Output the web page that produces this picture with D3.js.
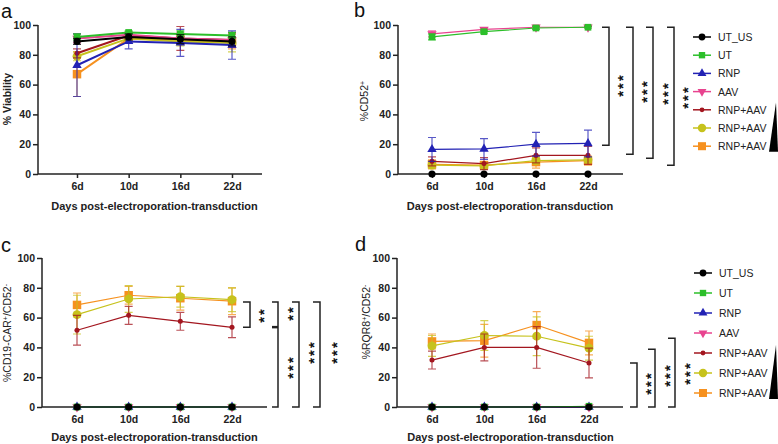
<!DOCTYPE html>
<html>
<head>
<meta charset="utf-8">
<script src="https://cdn.jsdelivr.net/npm/d3@7"></script>
<style>
  body { margin: 0; background: #fff; }
  svg { font-family: "Liberation Sans", Arial, sans-serif; }
  .tick text { font-weight: bold; font-size: 10.5px; fill: #222; }
  .axis path, .axis line { stroke: #222; stroke-width: 1.5px; }
</style>
</head>
<body>
<div id="chart"></div>
<script>
// days on the x axis, and the seven groups
var days = ['6d', '10d', '16d', '22d'];
var groups = ['UT_US', 'UT', 'RNP', 'AAV', 'RNP+AAV', 'RNP+AAV', 'RNP+AAV'];
var yTicks = [0, 20, 40, 60, 80, 100];

// a - % viability
var viabilityMean = [
  [89, 92, 90.5, 89],
  [92, 95, 94, 93],
  [73, 89, 88, 86.5],
  [91, 93.5, 91, 90],
  [81, 93, 91, 90],
  [79, 91, 89, 88],
  [67, 91, 90, 89]
];
var viabilityErr = [
  [2, 2, 3, 3],
  [2, 1, 2, 2],
  [21, 5, 9, 9.5],
  [3, 2, 4, 4],
  [3, 2, 8, 5],
  [3, 2, 3, 6],
  [15, 2, 3, 5]
];

// b - %CD52+
var cd52Mean = [
  [0, 0, 0, 0],
  [92, 95.5, 98, 98.5],
  [16.5, 16.8, 20, 20.5],
  [94, 97, 98.5, 98.5],
  [8.5, 7, 12.5, 12.5],
  [6, 5.5, 9, 9.5],
  [6.5, 6, 8, 9]
];
var cd52Err = [
  [0, 0, 0, 0],
  [2, 1, 1, 0.5],
  [8, 7, 8, 9],
  [2, 1, 1, 0.5],
  [3, 4, 5, 6],
  [2, 2, 2, 2],
  [3, 2, 4, 3]
];

// c - %CD19-CAR+/CD52-
var carMean = [
  [0, 0, 0, 0],
  [0, 0, 0, 0],
  [0, 0, 0, 0],
  [0, 0, 0, 0],
  [51.5, 61.5, 57.5, 53.5],
  [62, 72.5, 74, 72],
  [68.5, 75, 73, 71]
];
var carErr = [
  [0, 0, 0, 0],
  [0, 0, 0, 0],
  [0, 0, 0, 0],
  [0, 0, 0, 0],
  [10, 6, 6, 7],
  [13, 9, 7, 8],
  [8, 6, 8, 9]
];

// d - %RQR8+/CD52-
var rqrMean = [
  [0, 0, 0, 0],
  [0, 0, 0, 0.5],
  [0, 0, 0, 0],
  [0, 0, 0, 0],
  [31.5, 40, 40, 29.5],
  [41, 48, 47.5, 39.5],
  [44, 44.5, 55, 43]
];
var rqrErr = [
  [0, 0, 0, 0],
  [0, 0, 0, 0],
  [0, 0, 0, 0],
  [0, 0, 0, 0],
  [6, 9, 14, 10],
  [7, 10, 13, 8],
  [5, 11, 9, 8]
];

// significance brackets, in data units (top value, bottom value, stars)
var sigB = [[98.5, 19.3, '***'], [98.5, 13.2, '***'], [98.5, 10.5, '***'], [98.5, 5.8, '***']];
var sigD = [[29.5, 0, '***'], [38.8, 0, '***'], [46.2, 0, '***']];

var colors = ['#000000', '#2cbf2a', '#2222b4', '#e8438f', '#a3161f', '#c6c21c', '#f6911f'];
var symbols = [d3.symbolCircle, d3.symbolSquare, d3.symbolTriangle, d3.symbolTriangle,
               d3.symbolCircle, d3.symbolCircle, d3.symbolSquare];
var symSize = [40, 45, 38, 38, 20, 62, 72];

var W = 778, H = 444;
var svg = d3.select('#chart').append('svg').attr('width', W).attr('height', H);

function marker(g, i, x, y, scale) {
  g.append('path')
    .attr('d', d3.symbol().type(symbols[i]).size(symSize[i] * (scale || 1))())
    .attr('transform', 'translate(' + x + ',' + y + ')' + (i == 3 ? ' rotate(180)' : ''))
    .attr('fill', colors[i]);
}

function yLabel(x, y, parts, bold) {
  var t = svg.append('text')
    .attr('transform', 'translate(' + x + ',' + y + ') rotate(-90)')
    .attr('text-anchor', 'middle')
    .style('font-size', '10.5px')
    .style('font-weight', bold ? 'bold' : 'normal')
    .style('fill', '#222');
  parts.forEach(function(p) {
    var s = t.append('tspan').text(p[0]);
    if (p[1]) s.attr('baseline-shift', 'super').style('font-size', '7px');
  });
}

// stars stacked vertically: one rotated text, glyph centre at (x, yc)
function stars(x, yc, label) {
  svg.append('text')
    .attr('transform', 'translate(' + (x + 8.5) + ',' + yc + ') rotate(-90)')
    .attr('text-anchor', 'middle')
    .style('font-size', '15px').style('font-weight', 'bold').style('fill', '#111')
    .style('letter-spacing', '2px')
    .text(label);
}

function bracket(x, yTop, yBot, tick) {
  svg.append('path')
    .attr('d', 'M' + (x - tick) + ',' + yTop + 'H' + x + 'V' + yBot + 'H' + (x - tick))
    .attr('fill', 'none').attr('stroke', '#222').attr('stroke-width', 1.5);
}

function drawPanel(p) {
  var y = d3.scaleLinear().domain([0, 100]).range([p.y0, p.y100]);
  var x = d3.scalePoint().domain(days).range([p.xFrom, p.xTo]);
  var g = svg.append('g');

  svg.append('text').attr('x', p.lx).attr('y', p.ly)
    .style('font-size', '20px').style('fill', '#111').text(p.letter);

  var yAxis = g.append('g').attr('class', 'axis')
    .attr('transform', 'translate(' + p.axisX + ',0)')
    .call(d3.axisLeft(y).tickValues(yTicks).tickSize(5).tickSizeOuter(0).tickPadding(2));
  yAxis.select('.domain').attr('d', 'M0,' + p.y0 + 'V' + p.y100);

  var xAxis = g.append('g').attr('class', 'axis')
    .attr('transform', 'translate(0,' + p.y0 + ')')
    .call(d3.axisBottom(x).tickSize(4).tickSizeOuter(0).tickPadding(5));
  xAxis.select('.domain').attr('d', 'M' + p.axisX + ',0H' + p.axisEnd);

  svg.append('text')
    .attr('x', (p.xFrom + p.xTo) / 2).attr('y', p.y0 + p.titleGap)
    .attr('text-anchor', 'middle')
    .style('font-size', '11px').style('font-weight', 'bold').style('fill', '#222')
    .text('Days post-electroporation-transduction');

  var line = d3.line().x(function(d, j) { return x(days[j]); }).y(function(d) { return y(d); });

  for (var i = groups.length - 1; i >= 0; i--) {
    var gi = g.append('g');
    // error bars
    p.mean[i].forEach(function(m, j) {
      var e = p.err[i][j];
      if (e <= 0) return;
      var cx = x(days[j]);
      gi.append('path')
        .attr('d', 'M' + cx + ',' + y(m - e) + 'V' + y(Math.min(100, m + e)) +
          'M' + (cx - 4) + ',' + y(m - e) + 'H' + (cx + 4) +
          'M' + (cx - 4) + ',' + y(Math.min(100, m + e)) + 'H' + (cx + 4))
        .attr('stroke', colors[i]).attr('stroke-opacity', 0.75)
        .attr('stroke-width', 1.2).attr('fill', 'none');
    });
    gi.append('path').datum(p.mean[i]).attr('d', line)
      .attr('fill', 'none').attr('stroke', colors[i]).attr('stroke-width', p.lineW);
    p.mean[i].forEach(function(m, j) { marker(gi, i, x(days[j]), y(m)); });
  }
  return y;
}

function legend(x, y0, dy) {
  groups.forEach(function(name, i) {
    var yy = y0 + i * dy;
    svg.append('line').attr('x1', x - 9).attr('x2', x + 9).attr('y1', yy).attr('y2', yy)
      .attr('stroke', colors[i]).attr('stroke-width', 1.5);
    marker(svg, i, x, yy, 0.9);
    svg.append('text').attr('x', x + 16).attr('y', yy + 4)
      .style('font-size', '10.5px').style('fill', '#222').text(name);
  });
  // dose wedge
  var top = y0 + 3.6 * dy, bot = y0 + 6.3 * dy;
  svg.append('path').attr('d', 'M776,' + top + 'L769,' + bot + 'H778Z').attr('fill', '#000');
}

// a
drawPanel({letter: 'a', lx: 1, ly: 18, axisX: 38, axisEnd: 262, y0: 174, y100: 25,
  xFrom: 77, xTo: 232, mean: viabilityMean, err: viabilityErr, lineW: 2, titleGap: 36});
yLabel(11, 99, [['% Viability']], true);

// b
var yb = drawPanel({letter: 'b', lx: 354, ly: 17, axisX: 398, axisEnd: 623, y0: 174, y100: 25,
  xFrom: 432, xTo: 588, mean: cd52Mean, err: cd52Err, lineW: 1.2, titleGap: 36});
yLabel(368, 101, [['%CD52'], ['+', true]], false);
var bx = [609, 633, 653, 674], bs = [619, 643, 664, 684], bsy = [85, 91, 93, 97];
sigB.forEach(function(s, k) {
  bracket(bx[k], yb(s[0]), yb(s[1]), 7);
  stars(bs[k], bsy[k], s[2]);
});
legend(702, 37, 18.2);

// c
var yc = drawPanel({letter: 'c', lx: 1, ly: 252, axisX: 42, axisEnd: 267, y0: 407, y100: 258,
  xFrom: 77, xTo: 232, mean: carMean, err: carErr, lineW: 1.2, titleGap: 34});
yLabel(11, 333, [['%CD19-CAR'], ['+', true], ['/CD52'], ['-', true]], false);
bracket(250, yc(70.5), yc(53.6), 7);
stars(260, 315, '**');
bracket(278, yc(70.5), yc(0), 6);
svg.append('line').attr('x1', 272).attr('x2', 278).attr('y1', yc(53.6)).attr('y2', yc(53.6))
  .attr('stroke', '#222').attr('stroke-width', 2.5);
stars(289, 313, '**');
stars(289, 367, '***');
bracket(299, yc(70.5), yc(0), 7);
stars(310, 352, '***');
bracket(320, yc(70.5), yc(0), 7);
stars(333, 352, '***');

// d
var yd = drawPanel({letter: 'd', lx: 355, ly: 251, axisX: 397, axisEnd: 623, y0: 407, y100: 258,
  xFrom: 432, xTo: 589, mean: rqrMean, err: rqrErr, lineW: 1.2, titleGap: 34});
yLabel(370, 322, [['%RQR8'], ['+', true], ['/CD52'], ['-', true]], false);
var dx = [637, 655, 675], ds = [647, 666, 686], dsy = [383, 375, 373];
sigD.forEach(function(s, k) {
  bracket(dx[k], yd(s[0]), yd(s[1]), 7);
  stars(ds[k], dsy[k], s[2]);
});
legend(703, 273, 20);
</script>
</body>
</html>
